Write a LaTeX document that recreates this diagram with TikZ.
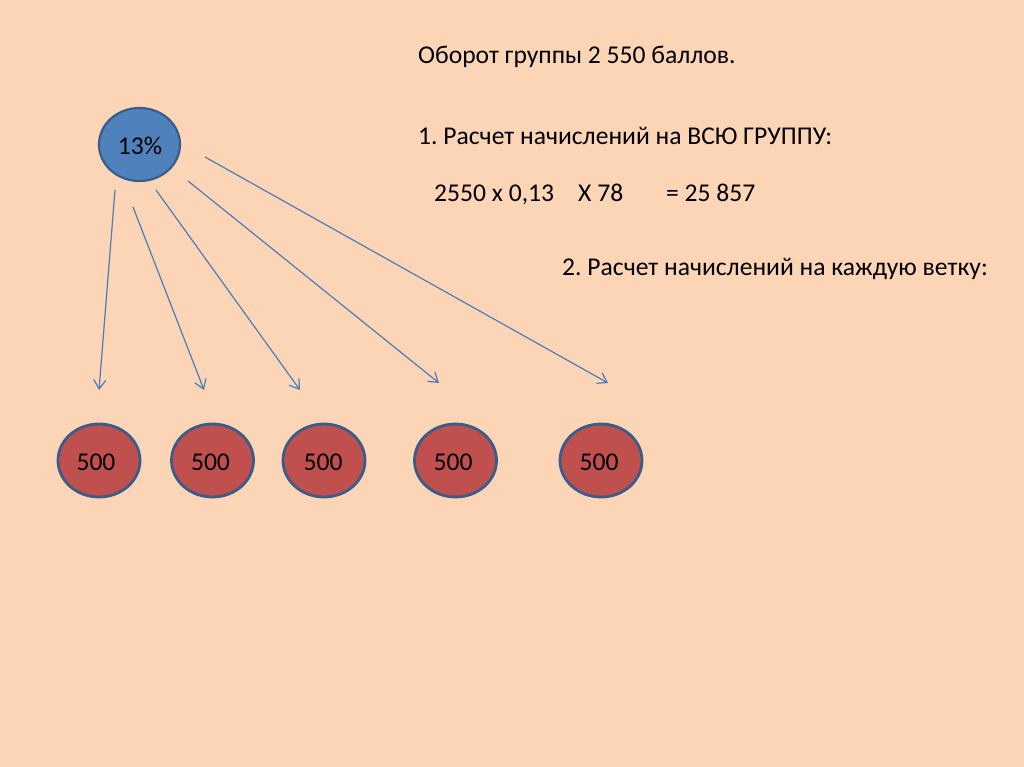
\documentclass[tikz,border=0pt]{standalone}
\usepackage{fontspec}
\setmainfont{Carlito}
\usetikzlibrary{arrows.meta,shapes.geometric}
\definecolor{bg}{HTML}{FBD5B5}
\definecolor{bluefill}{HTML}{4F81BD}
\definecolor{blueline}{HTML}{385D8A}
\definecolor{redfill}{HTML}{C0504D}
\definecolor{arrowblue}{HTML}{4A7EBB}
\frenchspacing
\tikzset{
  txt/.style={anchor=base west, inner sep=0pt, font=\fontsize{25.6}{30}\selectfont, text=black},
  lbl/.style={inner sep=0pt, font=\fontsize{25.6}{30}\selectfont, text=black},
  bluenode/.style={ellipse, draw=blueline, line width=2.2pt, fill=bluefill, minimum width=81pt, minimum height=73pt, inner sep=0pt},
  rednode/.style={ellipse, draw=blueline, line width=2.8pt, fill=redfill, minimum width=82pt, minimum height=73pt, inner sep=0pt},
  conn/.style={draw=arrowblue, line width=1.2pt, -{Straight Barb[length=9pt,width=12pt,line width=1.2pt]}}
}
\begin{document}
\begin{tikzpicture}[x=1pt,y=-1pt]
\fill[bg] (0,0) rectangle (1024,767);
\useasboundingbox (0,0) rectangle (1024,767);

\node[bluenode] (top) at (139.5,144.5) {};
\node[lbl] (toplbl) at (140,146) {13\%};

\node[rednode] (r1) at (99,460.5) {};
\node[rednode] (r2) at (212.5,460.5) {};
\node[rednode] (r3) at (324,460.5) {};
\node[rednode] (r4) at (455.5,460.5) {};
\node[rednode] (r5) at (601,460.5) {};
\node[lbl] (t1) at (96,462) {500};
\node[lbl] (t2) at (210.5,462) {500};
\node[lbl] (t3) at (323,462) {500};
\node[lbl] (t4) at (453,462) {500};
\node[lbl] (t5) at (599,462) {500};

\coordinate (s1) at (115,190);
\coordinate (s2) at (133,207);
\coordinate (s3) at (156,190);
\coordinate (s4) at (188,181);
\coordinate (s5) at (205,157);
\coordinate (e1) at (99,390);
\coordinate (e2) at (204,390);
\coordinate (e3) at (300,390);
\coordinate (e4) at (439,383);
\coordinate (e5) at (608,383);
\draw[conn] (s1) -- (e1);
\draw[conn] (s2) -- (e2);
\draw[conn] (s3) -- (e3);
\draw[conn] (s4) -- (e4);
\draw[conn] (s5) -- (e5);

\node[txt] (l1) at (418,64) {Оборот группы 2 550 баллов.};
\node[txt] (l2) at (418,145) {1. Расчет начислений на ВСЮ ГРУППУ:};
\node[txt] (l3a) at (434,202) {2550 x 0,13};
\node[txt] (l3b) at (578,202) {X 78};
\node[txt] (l3c) at (666,202) {= 25 857};
\node[txt] (l4) at (562,275) {2. Расчет начислений на каждую ветку:};
\end{tikzpicture}
\end{document}
